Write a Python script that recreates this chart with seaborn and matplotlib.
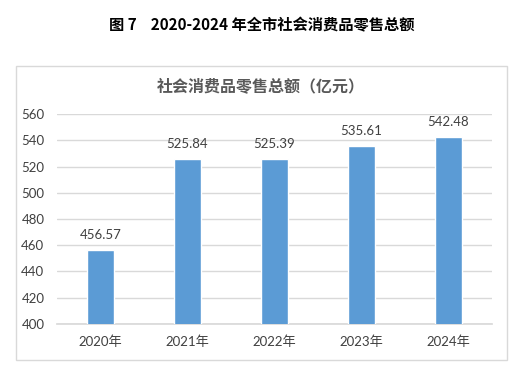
import matplotlib
matplotlib.use('Agg')
import matplotlib.pyplot as plt
import seaborn as sns
import pandas as pd
from matplotlib.patches import Rectangle

years = ['2020年', '2021年', '2022年', '2023年', '2024年']
sales = [456.57, 525.84, 525.39, 535.61, 542.48]
yticks = [400, 420, 440, 460, 480, 500, 520, 540, 560]

sns.set_theme(style='white')
plt.rcParams['font.family'] = ['Lato', 'Noto Sans CJK SC', 'DejaVu Sans']

df = pd.DataFrame({'year': years, 'sales': sales})

fig = plt.figure(figsize=(5.22, 3.69), dpi=100)
fig.patch.set_facecolor('white')
ax = fig.add_axes([0.109, 0.122, 0.8335, 0.569])

# outer chart box
fig.patches.append(Rectangle((0.031, 0.024), 0.94, 0.797, transform=fig.transFigure,
                             fill=False, edgecolor='#d9d9d9', linewidth=1.0))

sns.barplot(data=df, x='year', y='sales', color='#5b9bd5', width=0.31,
            saturation=1, ax=ax, zorder=3)

ax.set_ylim(400, 560)
ax.set_yticks(yticks)
ax.yaxis.grid(True, color='#d9d9d9', linewidth=1.0, zorder=0)
for s in ['top', 'right', 'left']:
    ax.spines[s].set_visible(False)
ax.spines['bottom'].set_color('#d9d9d9')
ax.set_xlabel('')
ax.set_ylabel('')
ax.tick_params(axis='both', length=0, labelsize=9.5, colors='#404040')
ax.tick_params(axis='y', pad=9)
ax.tick_params(axis='x', pad=8)

for i, v in enumerate(sales):
    ax.text(i, v + 7, f'{v:.2f}', ha='center', va='bottom', fontsize=9.5, color='#404040')

fig.text(0.5, 0.764, '社会消费品零售总额（亿元）', ha='center', va='center',
         fontsize=11.5, color='#595959', fontweight='bold',
         family=['Noto Sans CJK SC', 'DejaVu Sans'])
fig.text(0.502, 0.932, '图 7    2020-2024 年全市社会消费品零售总额', ha='center', va='center',
         fontsize=11, color='black', fontweight='bold',
         family=['Noto Sans CJK SC', 'DejaVu Sans'])

fig.savefig('out.png', dpi=100)
